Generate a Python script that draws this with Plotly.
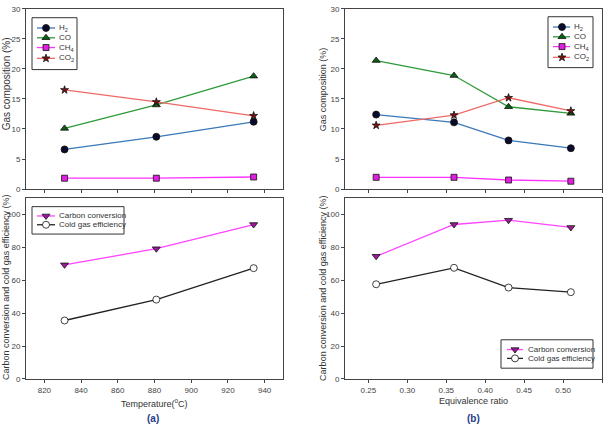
import plotly.graph_objects as go

# ---- Data ----
temp = [831, 881, 934]
h2_a = [6.6, 8.7, 11.2]
co_a = [10.1, 14.0, 18.8]
ch4_a = [1.8, 1.8, 2.0]
co2_a = [16.5, 14.5, 12.2]
cc_a = [69.3, 79.1, 93.8]
cge_a = [35.5, 48.2, 67.3]

er = [0.26, 0.36, 0.43, 0.51]
h2_b = [12.4, 11.1, 8.1, 6.8]
co_b = [21.4, 18.9, 13.7, 12.6]
ch4_b = [1.95, 1.95, 1.5, 1.3]
co2_b = [10.6, 12.3, 15.2, 13.0]
cc_b = [74.5, 93.8, 96.4, 92.0]
cge_b = [57.5, 67.5, 55.5, 52.7]

gas_names = ["H<sub>2</sub>", "CO", "CH<sub>4</sub>", "CO<sub>2</sub>"]
eff_names = ["Carbon conversion", "Cold gas efficiency"]

gas_styles = [
    dict(line="#3a78b8", mk="#0a0a2a", sym="circle", size=7),
    dict(line="#2e9a3a", mk="#0b5e16", sym="triangle-up", size=7),
    dict(line="#ff33ff", mk="#e020e0", sym="square", size=6),
    dict(line="#ee6a66", mk="#7a1010", sym="star", size=6),
]
eff_styles = [
    dict(line="#ff44ff", mk="#9a1a9a", sym="triangle-down", size=7),
    dict(line="#222222", mk="white", sym="circle", size=7),
]

W, H = 608, 428
def px(x):
    return x / W
def py(y):
    return 1 - y / H

fig = go.Figure()

def add_series(x, names, series, styles, xa, ya):
    for name, ys, st in zip(names, series, styles):
        fig.add_trace(go.Scatter(
            x=x, y=ys, name=name, mode="lines+markers", showlegend=False,
            line=dict(color=st["line"], width=1.3),
            marker=dict(symbol=st["sym"], size=st["size"], color=st["mk"],
                        line=dict(color="#111111", width=0.8)),
            xaxis=xa, yaxis=ya))

add_series(temp, gas_names, [h2_a, co_a, ch4_a, co2_a], gas_styles, "x", "y")
add_series(temp, eff_names, [cc_a, cge_a], eff_styles, "x2", "y2")
add_series(er, gas_names, [h2_b, co_b, ch4_b, co2_b], gas_styles, "x3", "y3")
add_series(er, eff_names, [cc_b, cge_b], eff_styles, "x4", "y4")

# ---- custom compact legends (drawn on a hidden full-figure overlay axis, pixel units) ----
def add_legend(box, rows, keyx, textx, names, styles):
    x0, y0, x1, y1 = box
    fig.add_shape(type="rect", xref="paper", yref="paper",
                  x0=px(x0), x1=px(x1), y0=py(y1), y1=py(y0),
                  line=dict(color="#333333", width=1), fillcolor="rgba(0,0,0,0)",
                  layer="above")
    for yc, name, st in zip(rows, names, styles):
        fig.add_trace(go.Scatter(x=[keyx[0], keyx[2]], y=[yc, yc], mode="lines",
                                 line=dict(color=st["line"], width=1.3),
                                 showlegend=False, hoverinfo="skip",
                                 xaxis="x5", yaxis="y5"))
        fig.add_trace(go.Scatter(x=[keyx[1]], y=[yc], mode="markers",
                                 marker=dict(symbol=st["sym"], size=st["size"], color=st["mk"],
                                             line=dict(color="#111111", width=0.8)),
                                 showlegend=False, hoverinfo="skip",
                                 xaxis="x5", yaxis="y5"))
        fig.add_annotation(text=name, x=px(textx), y=py(yc), xref="paper", yref="paper",
                           showarrow=False, xanchor="left", yanchor="middle",
                           font=dict(size=8, color="#333333", family="Arial"))

add_legend((32, 14, 77, 67), [24.5, 34.5, 44.5, 55.5], (37, 46, 55), 57, gas_names, gas_styles)
add_legend((548, 13, 593, 65), [23.5, 33.5, 43.5, 54.5], (553, 562, 570), 572, gas_names, gas_styles)
add_legend((32, 207, 124, 235), [216.5, 225.5], (37, 46, 55), 57, eff_names, eff_styles)
add_legend((501, 343, 593, 372), [353, 362], (507, 515, 523), 526, eff_names, eff_styles)

lx = [px(26), px(283)]
rx = [px(345), px(602)]
ty = [py(189), py(5)]
by = [py(383), py(198)]

axcommon = dict(showline=True, linecolor="#444444", linewidth=1, mirror=True,
                ticks="outside", ticklen=3, tickcolor="#444444",
                tickfont=dict(size=8, color="#444444", family="Arial"),
                showgrid=False, zeroline=False)

fig.update_layout(
    width=W, height=H, margin=dict(l=0, r=0, t=0, b=0),
    paper_bgcolor="white", plot_bgcolor="rgba(0,0,0,0)",
    font=dict(family="Arial", color="#333333"),
    showlegend=False,
    xaxis=dict(domain=lx, range=[810, 950], dtick=20, tick0=820, showticklabels=False,
               anchor="y", **axcommon),
    yaxis=dict(domain=ty, range=[0, 30], dtick=5, anchor="x", **axcommon),
    xaxis2=dict(domain=lx, range=[810, 950], dtick=20, tick0=820, anchor="y2", **axcommon),
    yaxis2=dict(domain=by, range=[0, 110], tickvals=[0, 20, 40, 60, 80, 100], anchor="x2", **axcommon),
    xaxis3=dict(domain=rx, range=[0.22, 0.55], dtick=0.05, tick0=0.25, tickformat=".2f",
                showticklabels=False, anchor="y3", **axcommon),
    yaxis3=dict(domain=ty, range=[0, 30], dtick=5, anchor="x3", **axcommon),
    xaxis4=dict(domain=rx, range=[0.22, 0.55], dtick=0.05, tick0=0.25, tickformat=".2f",
                anchor="y4", **axcommon),
    yaxis4=dict(domain=by, range=[0, 110], tickvals=[0, 20, 40, 60, 80, 100], anchor="x4", **axcommon),
    xaxis5=dict(domain=[0, 1], range=[0, W], visible=False, anchor="y5", fixedrange=True),
    yaxis5=dict(domain=[0, 1], range=[H, 0], visible=False, anchor="x5", fixedrange=True),
)

def ann(text, x, y, angle=0, size=9, color="#333333", bold=False):
    fig.add_annotation(text=("<b>%s</b>" % text) if bold else text,
                       x=px(x), y=py(y), xref="paper", yref="paper",
                       showarrow=False, textangle=angle,
                       font=dict(size=size, color=color, family="Arial"),
                       xanchor="center", yanchor="middle")

ann("Gas composition (%)", 6, 82, angle=-90, size=10)
ann("Carbon conversion and cold gas efficiency (%)", 6, 290, angle=-90, size=9)
ann("Gas composition (%)", 323, 87, angle=-90)
ann("Carbon conversion and cold gas efficiency (%)", 323, 291, angle=-90)
ann("Temperature(<sup>o</sup>C)", 155, 408)
ann("Equivalence ratio", 473, 406)
ann("(a)", 153, 423, size=10, color="#1f3c88", bold=True)
ann("(b)", 473, 423, size=10, color="#1f3c88", bold=True)

fig.write_html("out.html")
